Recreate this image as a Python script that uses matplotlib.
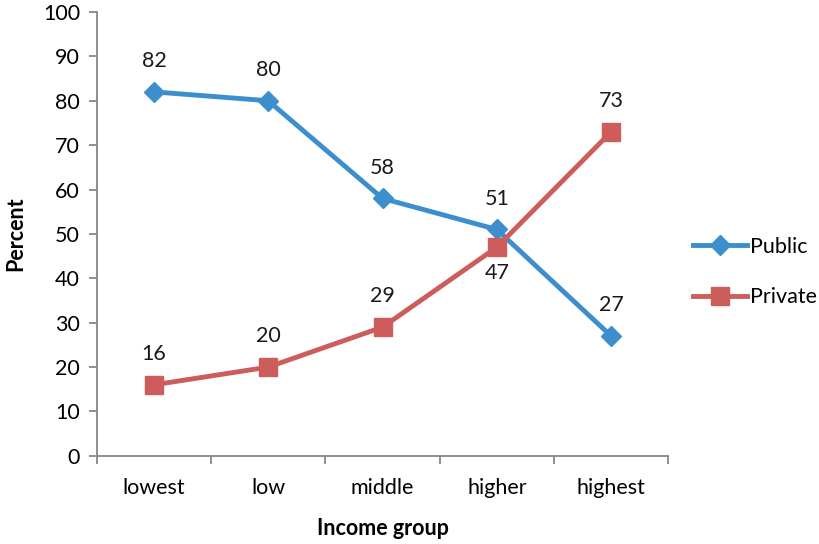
import matplotlib
matplotlib.use('Agg')
from matplotlib import pyplot as plt

groups = ['lowest', 'low', 'middle', 'higher', 'highest']
public = [82, 80, 58, 51, 27]
private = [16, 20, 29, 47, 73]
# label placement: True = above the point
private_above = [True, True, True, False, True]

plt.rcParams['font.family'] = ['Lato', 'DejaVu Sans']
BLUE = '#3c8fcc'
RED = '#cd5d5b'
GRAY = '#868686'
FS = 15.5

fig = plt.figure(figsize=(8.2, 5.44), dpi=100)
ax = fig.add_axes([0.118, 0.162, 0.697, 0.816])

x = list(range(len(groups)))
ax.plot(x, public, color=BLUE, lw=3.5, marker='D', ms=10, label='Public', zorder=3)
ax.plot(x, private, color=RED, lw=3.5, marker='s', ms=13, label='Private', zorder=4)

for i, v in enumerate(public):
    ax.annotate(str(v), (i, v), xytext=(0, 15), textcoords='offset points',
                ha='center', va='bottom', fontsize=FS, color='#1a1a1a')
for i, v in enumerate(private):
    if private_above[i]:
        ax.annotate(str(v), (i, v), xytext=(0, 15), textcoords='offset points',
                    ha='center', va='bottom', fontsize=FS, color='#1a1a1a')
    else:
        ax.annotate(str(v), (i, v), xytext=(0, -11), textcoords='offset points',
                    ha='center', va='top', fontsize=FS, color='#1a1a1a')

ax.set_xlim(-0.5, len(groups) - 0.5)
ax.set_ylim(0, 100)
ax.set_yticks(range(0, 101, 10))
ax.set_xticks(x)
ax.set_xticklabels(groups)
ax.set_xticks([i - 0.5 for i in range(len(groups) + 1)], minor=True)
ax.tick_params(axis='x', which='major', length=0, pad=16, labelsize=FS)
ax.tick_params(axis='x', which='minor', length=6, color=GRAY, width=1.3)
ax.tick_params(axis='y', length=6, color=GRAY, width=1.3, pad=6, labelsize=FS)

for s in ['top', 'right']:
    ax.spines[s].set_visible(False)
for s in ['left', 'bottom']:
    ax.spines[s].set_color(GRAY)
    ax.spines[s].set_linewidth(1.3)

ax.set_ylabel('Percent', fontsize=FS, fontweight='bold', labelpad=12)
ax.set_xlabel('Income group', fontsize=FS, fontweight='bold', labelpad=14)

fig.legend(loc='center left', bbox_to_anchor=(0.845, 0.5), frameon=False,
           fontsize=FS, handlelength=2.5, labelspacing=1.4, handletextpad=0.15,
           borderaxespad=0, borderpad=0)

fig.savefig('out.png', dpi=100)
